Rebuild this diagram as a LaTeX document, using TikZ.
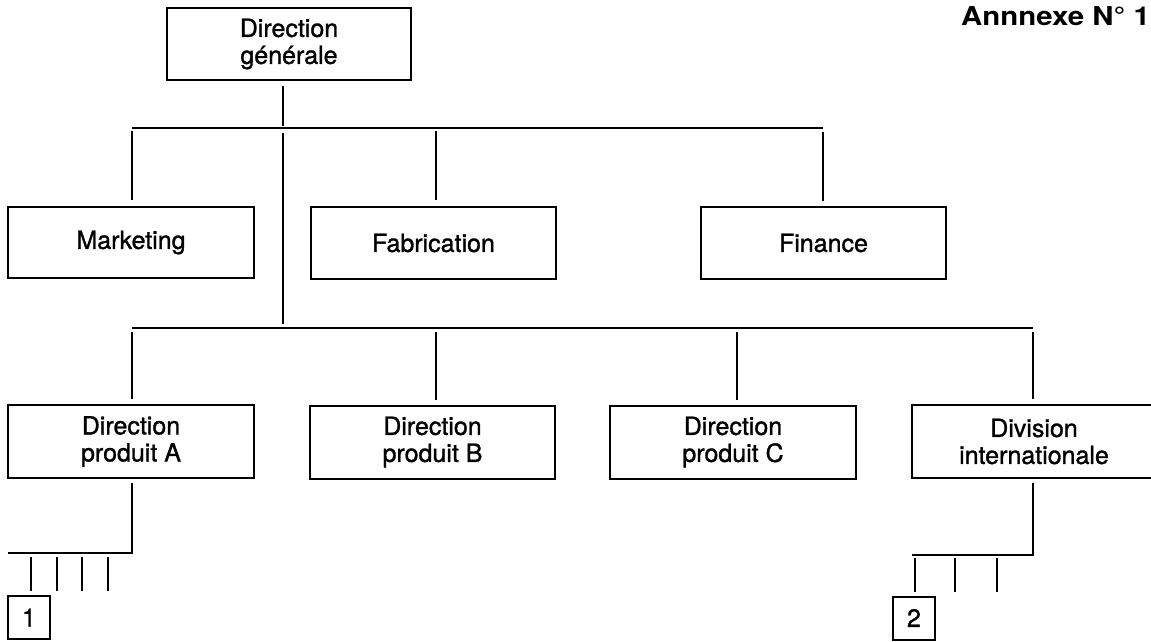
\documentclass[tikz,border=0pt]{standalone}
\usepackage{fontspec}
\setmainfont{TeX Gyre Heros}
\newfontfamily\boxfont{TeX Gyre Heros}[FakeBold=1.2]
\begin{document}
\begin{tikzpicture}[x=1pt,y=-1pt,
  box/.style={draw, line width=2pt, inner sep=0pt, align=center,
    font=\boxfont\fontsize{25}{27}\selectfont},
  link/.style={line width=1.3pt},
  tick/.style={line width=1.5pt}
]
\useasboundingbox (0,0) rectangle (1151,641);

% boxes
\node[box, minimum width=244pt, minimum height=72pt] (dg) at (289,44) {Direction\\générale};
\node[box, minimum width=246pt, minimum height=71pt] (mkt) at (131,242.5) {Marketing};
\node[box, minimum width=245pt, minimum height=72pt] (fab) at (433.5,243) {Fabrication};
\node[box, minimum width=245pt, minimum height=72pt] (fin) at (823.5,243) {Finance};
\node[box, minimum width=246pt, minimum height=73pt] (dpa) at (131,441.5) {Direction\\produit A};
\node[box, minimum width=245pt, minimum height=73pt] (dpb) at (432.5,442) {Direction\\produit B};
\node[box, minimum width=246pt, minimum height=73pt] (dpc) at (733,442) {Direction\\produit C};
\node[box, minimum width=244pt, minimum height=73pt] (div) at (1034,441.5) {Division\\internationale};
\node[box, minimum width=42pt, minimum height=43pt] (n1) at (29,617.5) {1};
\node[box, minimum width=42pt, minimum height=43pt] (n2) at (914,618) {2};

% title
\node[anchor=base west, inner sep=0pt] (title) at (961,25)
  {\scalebox{1.13}[1]{\fontsize{26}{28}\selectfont\bfseries Annnexe N° 1}};

% first level bus
\coordinate (busA) at (283,128);
\coordinate (busAL) at (132,128);
\coordinate (busAR) at (823,128);
\draw[link, shorten <=5pt, shorten >=2pt] (dg.south -| busA) -- (busA);
\draw[link] (busAL) -- (busAR);
\draw[link, shorten <=3pt, shorten >=6pt] (busAL) -- (mkt.north -| busAL);
\draw[link, shorten <=3pt, shorten >=6pt] (busAL -| 436,0) -- (fab.north -| 436,0);
\draw[link, shorten <=4pt, shorten >=5pt] (busAR) -- (fin.north -| busAR);

% second level bus
\coordinate (busB) at (283,328);
\coordinate (busBL) at (132,328);
\coordinate (busBR) at (1033,328);
\draw[link, shorten <=5pt, shorten >=4pt] (busA) -- (busB);
\draw[link] (busBL) -- (busBR);
\draw[link, shorten <=4pt, shorten >=5pt] (busBL) -- (dpa.north -| busBL);
\draw[link, shorten <=4pt, shorten >=5pt] (busBL -| 436,0) -- (dpb.north -| 436,0);
\draw[link, shorten <=4pt, shorten >=5pt] (busBL -| 737,0) -- (dpc.north -| 737,0);
\draw[link, shorten <=4pt, shorten >=5pt] (busBR) -- (div.north -| busBR);

% below Direction produit A
\coordinate (subA) at (132,553);
\coordinate (subAend) at (8,553);
\draw[link, shorten <=4pt] (dpa.south -| subA) -- (subA) -- (subAend);
\foreach \xx in {31,57,82,108} \draw[tick] (\xx,557) -- (\xx,591);

% below Division internationale
\coordinate (subD) at (1033,555);
\coordinate (subDend) at (912,555);
\draw[link, shorten <=4pt] (div.south -| subD) -- (subD) -- (subDend);
\foreach \xx in {915,955,997} \draw[tick] (\xx,558) -- (\xx,592);
\end{tikzpicture}
\end{document}
